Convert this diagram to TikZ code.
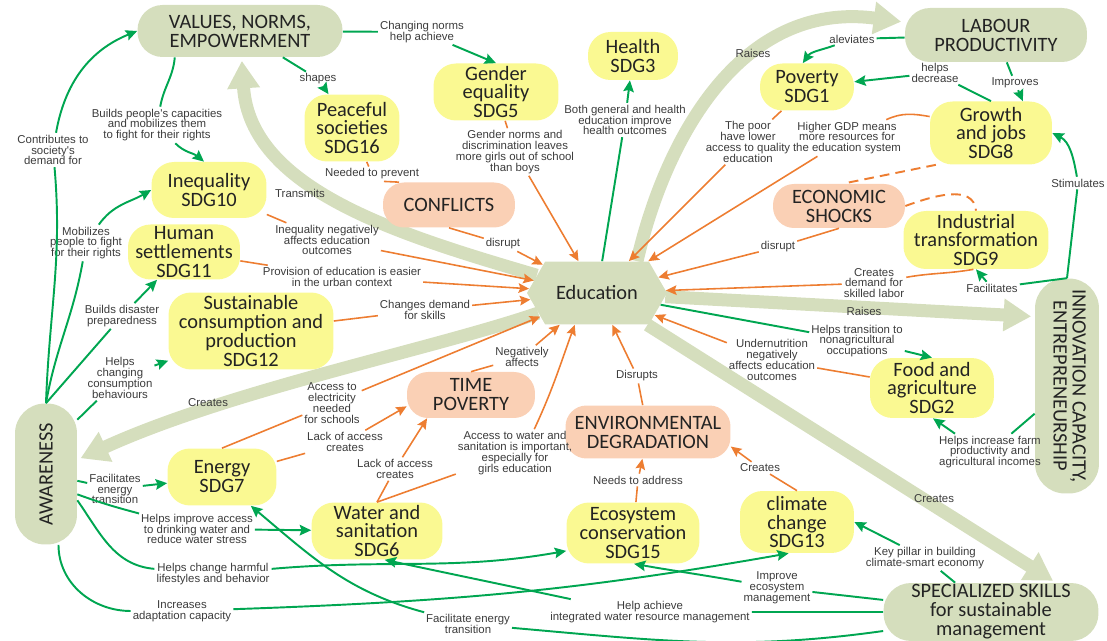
\documentclass[tikz,border=0pt]{standalone}
\usepackage{fontspec}
\setmainfont{Carlito}
\newfontfamily\lblfam{Liberation Sans}
\usetikzlibrary{arrows.meta, shapes.symbols, backgrounds}

\definecolor{sagegreen}{RGB}{213,222,189}
\definecolor{sdgyellow}{RGB}{250,249,146}
\definecolor{shocksalmon}{RGB}{250,208,181}
\definecolor{linkgreen}{RGB}{0,166,81}
\definecolor{linkorange}{RGB}{237,125,49}
\definecolor{lbltext}{RGB}{60,60,60}
\definecolor{boxtext}{RGB}{35,35,35}

\newcommand\boxfont{\fontsize{11.6}{10.8}\selectfont}
\newcommand\lblfont{\lblfam\fontsize{6.5}{6.2}\selectfont}

\tikzset{
  sagebox/.style={fill=sagegreen, rounded corners=0.5cm, align=center, inner sep=0pt, font=\boxfont, text=boxtext},
  sdgbox/.style={fill=sdgyellow, rounded corners=0.45cm, align=center, inner sep=0pt, font=\boxfont, text=boxtext},
  riskbox/.style={fill=shocksalmon, rounded corners=0.42cm, align=center, inner sep=0pt, font=\boxfont, text=boxtext},
  edubox/.style={fill=sagegreen, signal, signal to=west and east, signal pointer angle=120, inner sep=0pt, font=\boxfont, text=boxtext},
  lbl/.style={font=\lblfont, text=lbltext, align=center, inner sep=1pt},
  garr/.style={draw=linkgreen, line width=1.1pt, -{Stealth[length=6.5pt,width=6pt,inset=1pt]}},
  oarr/.style={draw=linkorange, line width=0.9pt, -{Stealth[length=6pt,width=5.5pt,inset=1pt]}},
  oline/.style={draw=linkorange, line width=0.9pt},
  odash/.style={draw=linkorange, line width=1.1pt, dash pattern=on 5.5pt off 3.5pt},
  band/.style={draw=sagegreen, line width=0.26cm, shorten >=2pt, -{Triangle[width=0.62cm,length=0.55cm]}},
}

\begin{document}
\begin{tikzpicture}[x=0.02cm, y=-0.02cm]
\useasboundingbox (0,0) rectangle (1107,641);

% big outcome boxes
\node[sagebox, minimum width=4.1cm, minimum height=1.04cm] (val) at (240,31) {VALUES, NORMS,\\EMPOWERMENT};
\node[sagebox, minimum width=3.64cm, minimum height=1.08cm] (lab) at (996,35) {LABOUR\\PRODUCTIVITY};
\node[sagebox, rounded corners=0.6cm, minimum width=1.28cm, minimum height=4.3cm] (inn) at (1067,386)
  {\rotatebox{-90}{\begin{tabular}{@{}c@{}}INNOVATION CAPACITY,\\ENTREPRENEURSHIP\end{tabular}}};
\node[sagebox, rounded corners=0.6cm, minimum width=1.24cm, minimum height=2.82cm] (awa) at (46,474) {\rotatebox{90}{AWARENESS}};
\node[sagebox, rounded corners=0.55cm, minimum width=4.3cm, minimum height=1.16cm] (spe) at (991,612) {SPECIALIZED SKILLS\\for sustainable\\management};
\node[edubox, minimum width=2.8cm, minimum height=1.26cm] (edu) at (597,293) {Education};

% SDG boxes
\node[sdgbox, minimum width=1.8cm, minimum height=0.96cm] (sdg3) at (633,56) {Health\\SDG3};
\node[sdgbox, minimum width=2.5cm, minimum height=1.14cm] (sdg5) at (496,92) {Gender\\equality\\SDG5};
\node[sdgbox, minimum width=1.9cm, minimum height=1.34cm] (sdg16) at (352,128) {Peaceful\\societies\\SDG16};
\node[sdgbox, minimum width=1.88cm, minimum height=0.94cm] (sdg1) at (807,87) {Poverty\\SDG1};
\node[sdgbox, minimum width=2.44cm, minimum height=1.26cm] (sdg8) at (991,133) {Growth\\and jobs\\SDG8};
\node[sdgbox, minimum width=2.3cm, minimum height=1.12cm] (sdg10) at (209,190) {Inequality\\SDG10};
\node[sdgbox, minimum width=2.24cm, minimum height=1.1cm] (sdg11) at (184,252) {Human\\settlements\\SDG11};
\node[sdgbox, minimum width=3.3cm, minimum height=1.54cm] (sdg12) at (251,331) {Sustainable\\consumption and\\production\\SDG12};
\node[sdgbox, minimum width=2.9cm, minimum height=1.16cm] (sdg9) at (976,240) {Industrial\\transformation\\SDG9};
\node[sdgbox, minimum width=2.48cm, minimum height=1.2cm] (sdg2) at (932,388) {Food and\\agriculture\\SDG2};
\node[sdgbox, minimum width=2.18cm, minimum height=1.14cm] (sdg7) at (222,477) {Energy\\SDG7};
\node[sdgbox, minimum width=2.62cm, minimum height=1.14cm] (sdg6) at (377,531) {Water and\\sanitation\\SDG6};
\node[sdgbox, minimum width=2.66cm, minimum height=1.22cm] (sdg15) at (633,533) {Ecosystem\\conservation\\SDG15};
\node[sdgbox, minimum width=2.28cm, minimum height=1.24cm] (sdg13) at (797,522) {climate\\change\\SDG13};

% risk boxes
\node[riskbox, minimum width=2.64cm, minimum height=0.9cm] (conf) at (449,205) {CONFLICTS};
\node[riskbox, minimum width=2.64cm, minimum height=0.88cm] (econ) at (839,206) {ECONOMIC\\SHOCKS};
\node[riskbox, minimum width=2.56cm, minimum height=0.92cm] (tpov) at (471,395) {TIME\\POVERTY};
\node[riskbox, minimum width=3.3cm, minimum height=1.06cm] (env) at (648,432) {ENVIRONMENTAL\\DEGRADATION};

% labels
\node[lbl] (lchg) at (422,32) {Changing norms\\help achieve};
\node[lbl] (lshp) at (318,79) {shapes};
\node[lbl] (lcap) at (157,125) {Builds people's capacities\\and mobilizes them\\to fight for their rights};
\node[lbl] (lsoc) at (53,150) {Contributes to\\society's\\demand for};
\node[lbl] (ltrans) at (300,193) {Transmits};
\node[lbl] (lneed) at (372,174) {Needed to prevent};
\node[lbl] (lgen) at (515,152) {Gender norms and\\discrimination leaves\\more girls out of school\\than boys};
\node[lbl] (lhea) at (625,120) {Both general and health\\education improve\\health outcomes};
\node[lbl] (lrai1) at (753,53) {Raises};
\node[lbl] (lalev) at (852,39) {aleviates};
\node[lbl] (ldec) at (935,73) {helps\\decrease};
\node[lbl] (limp) at (1015,83) {Improves};
\node[lbl] (lpoor) at (748,142) {The poor\\have lower\\access to quality\\education};
\node[lbl] (lgdp) at (847,138) {Higher GDP means\\more resources for\\the education system};
\node[lbl] (lstim) at (1078,183) {Stimulates};
\node[lbl] (ldis2) at (778,247) {disrupt};
\node[lbl] (ldem) at (874,283) {Creates\\demand for\\skilled labor};
\node[lbl] (lfacil) at (992,288) {Facilitates};
\node[lbl] (lrai2) at (864,311) {Raises};
\node[lbl] (lnon) at (857,341) {Helps transition to\\nonagricultural\\occupations};
\node[lbl] (lund) at (772,360) {Undernutrition\\negatively\\affects education\\outcomes};
\node[lbl] (lfarm) at (990,452) {Helps increase farm\\productivity and\\agricultural incomes};
\node[lbl] (lcre1) at (934,499) {Creates};
\node[lbl] (lcre2) at (760,468) {Creates};
\node[lbl] (lkey) at (925,558) {Key pillar in building\\climate-smart economy};
\node[lbl] (leco) at (777,588) {Improve\\ecosystem\\management};
\node[lbl] (liwr) at (650,612) {Help achieve\\integrated water resource management};
\node[lbl] (lfen) at (468,624) {Facilitate energy\\transition};
\node[lbl] (ladap) at (182,611) {Increases\\adaptation capacity};
\node[lbl] (lharm) at (213,574) {Helps change harmful\\lifestyles and behavior};
\node[lbl] (ldrink) at (197,529) {Helps improve access\\to drinking water and\\reduce water stress};
\node[lbl] (lftr) at (115,489) {Facilitates\\energy\\transition};
\node[lbl] (lcre3) at (208,403) {Creates};
\node[lbl] (lcons) at (120,378) {Helps\\changing\\consumption\\behaviours};
\node[lbl] (lprep) at (122,316) {Builds disaster\\preparedness};
\node[lbl] (lmob) at (86,243) {Mobilizes\\people to fight\\for their rights};
\node[lbl] (lineq) at (327,240) {Inequality negatively\\affects education\\outcomes};
\node[lbl] (lurb) at (342,277) {Provision of education is easier\\in the urban context};
\node[lbl] (lskill) at (425,310) {Changes demand\\for skills};
\node[lbl] (lelec) at (332,403) {Access to\\electricity\\needed\\for schools};
\node[lbl] (llack1) at (345,442) {Lack of access\\creates};
\node[lbl] (llack2) at (395,469) {Lack of access\\creates};
\node[lbl] (lwat) at (515,453) {Access to water and\\sanitation is important,\\especially for\\girls education};
\node[lbl] (lnega) at (522,357) {Negatively\\affects};
\node[lbl] (ldisr) at (637,376) {Disrupts};
\node[lbl] (laddr) at (638,480) {Needs to address};
\node[lbl] (ldis1) at (503,244) {disrupt};

% wide arrows out of education
\begin{scope}[on background layer]
\draw[band] (edu) .. controls (400,235) and (250,190) .. (val);
\draw[band] ([xshift=0.8cm]edu.north) .. controls (665,140) and (740,0) .. (lab.172);
\draw[band] (edu) -- (inn.115);
\draw[band] (edu) .. controls (430,350) and (230,390) .. (awa);
\draw[band] (edu) -- ([xshift=1.3cm]spe.north);
\end{scope}

% green links
\draw[garr] (val) -- (lchg) -- (sdg5.north);
\draw[garr] (val) -- (lshp) -- (sdg16);
\draw[garr] (val.202) to[out=-95,in=80] (lcap) to[out=-45,in=140] (sdg10.100);
\draw[garr] (awa.north) to[out=88,in=-85] (lsoc) to[out=80,in=202] (val.west);
\draw[garr] (awa.north) to[out=80,in=-100] (lmob) to[out=55,in=210] (sdg10.west);
\draw[garr] (awa.north) -- (lprep) -- (sdg11);
\draw[garr] (awa.60) -- (lcons) -- (sdg12);
\draw[garr] (awa) -- (lftr) -- (sdg7);
\draw[garr] (awa.-33) to[out=-20,in=165] (ldrink) -- (sdg6);
\draw[garr] (awa.-40) to[out=-55,in=175] (lharm) to[out=5,in=190] (sdg15.195);
\draw[garr] (awa.-80) to[out=-90,in=180] (ladap) to[out=2,in=190] (sdg13.255);
\draw[garr] (spe.190) to[out=188,in=-5] (lfen) to[out=165,in=-40] (sdg7.-45);
\draw[garr] (spe) -- (liwr) ([xshift=0.45cm]liwr.north west) to[out=168,in=-12] (sdg6.-75);
\draw[garr] (spe) -- (leco) to[out=170,in=-10] (sdg15.-88);
\draw[garr] (spe) -- (lkey) -- (sdg13.east);
\draw[garr] (inn.north) -- (lfacil) -- (sdg9.south);
\draw[garr] (inn.north) -- (lstim) to[out=100,in=-27] (sdg8.east);
\draw[garr] (inn) -- (lfarm) ([xshift=-0.7cm]lfarm.north) -- (sdg2.-88);
\draw[garr] (lab) -- (lalev) to[out=200,in=55] (sdg1.100);
\draw[garr] (lab) -- (limp) -- (sdg8.45);
\draw[garr] (sdg8.north) -- (ldec) -- (sdg1);
\draw[garr] (edu) -- (lhea) -- (sdg3);
\draw[garr] (edu) -- (lnon) ([yshift=-0.2cm]lnon.east) -- (sdg2.north);

% orange links
\draw[oarr] (sdg5) -- (lgen) -- (edu);
\draw[oline] (sdg16) -- (lneed) ([xshift=0.24cm]lneed.south) -- ([xshift=-1cm]conf.north);
\draw[oarr] (conf.south) -- (ldis1) -- (edu);
\draw[oarr] (sdg10) -- (lineq) -- (edu);
\draw[oarr] (sdg11) -- (lurb) -- (edu);
\draw[oarr] (sdg12) -- (lskill) -- (edu);
\draw[oarr] (sdg7.north) -- (lelec) -- (edu);
\draw[oarr] (sdg7) -- (llack1) -- (tpov.190);
\draw[oarr] (sdg6.north) -- (llack2) -- (tpov.208);
\draw[oarr] (sdg6.north) -- (lwat) (lwat.51) to[out=65,in=-110] (edu.235);
\draw[oarr] (tpov.north) -- (lnega) -- (edu);
\draw[oarr] (env) -- (ldisr) -- (edu);
\draw[oarr] (sdg15) -- (laddr) -- (env);
\draw[oarr] (sdg13.north) -- (lcre2) -- (env.-10);
\draw[oarr] (sdg2) to[out=170,in=-10] (lund) -- (edu);
\draw[oarr] (sdg9.265) to[out=190,in=10] (ldem) -- (edu);
\draw[oarr] (econ.south) -- (ldis2) -- (edu);
\draw[oarr] (sdg8.165) to[out=170,in=25] (lgdp) -- (edu);
\draw[oarr] (sdg1) -- (lpoor) -- (edu);
\draw[odash] (sdg8.-150) -- (econ.80);
\draw[odash] (econ.east) to[out=20,in=95] (sdg9.north);
\end{tikzpicture}
\end{document}
